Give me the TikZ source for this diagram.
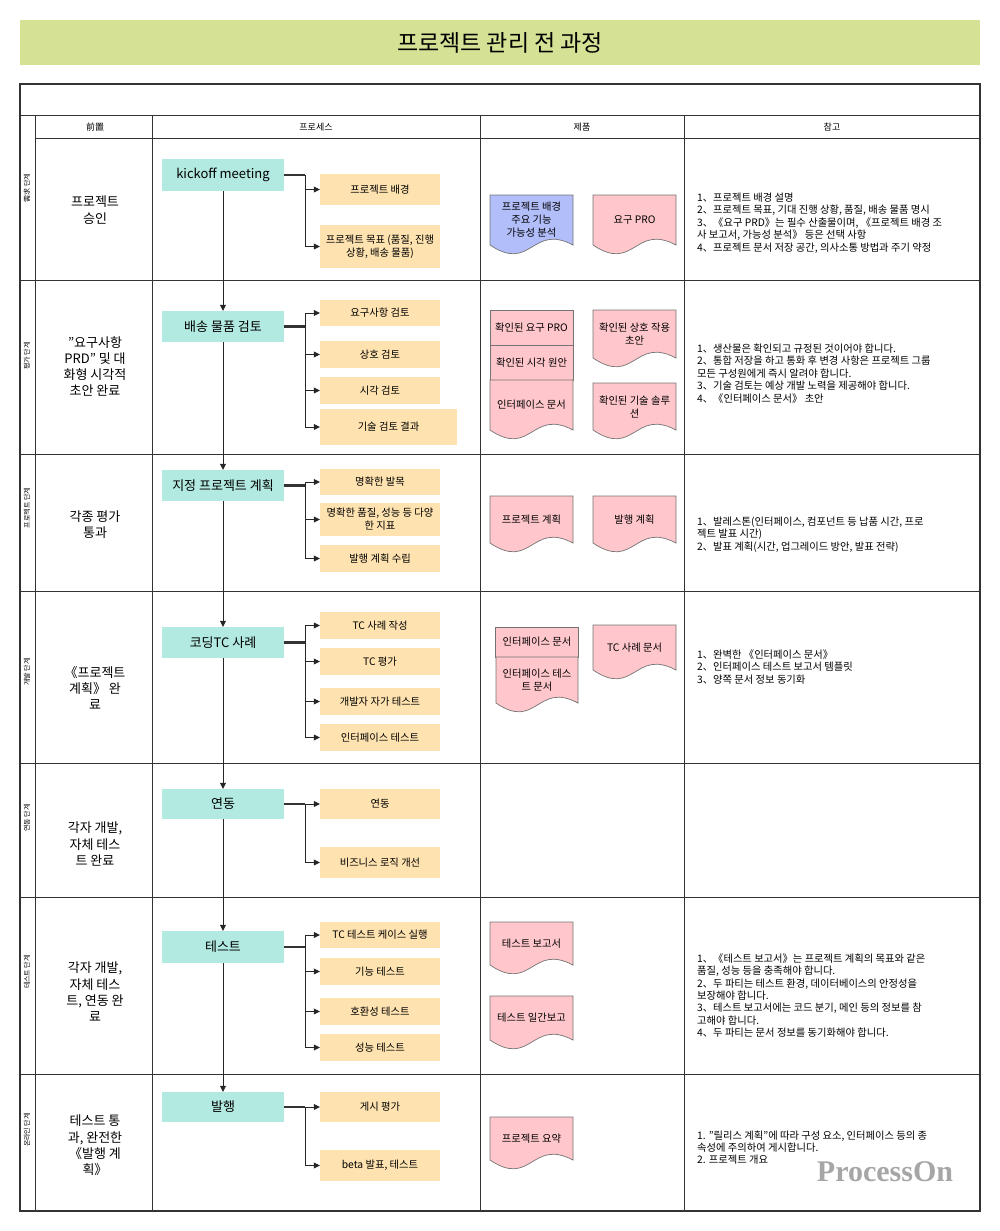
\documentclass[tikz,border=0pt]{standalone}
\usepackage{fontspec}
\setmainfont{Noto Sans CJK KR}
\newfontfamily\markfont{Liberation Serif}
\usetikzlibrary{arrows.meta,positioning}
\definecolor{titlegreen}{RGB}{213,226,150}
\definecolor{stagefill}{RGB}{178,233,224}
\definecolor{taskfill}{RGB}{254,226,176}
\definecolor{pinkdoc}{RGB}{255,199,204}
\definecolor{bluedoc}{RGB}{178,190,250}
\tikzset{
    stage/.style={fill=stagefill, minimum width=122pt, minimum height=31pt, inner sep=1pt, font=\fontsize{13}{15}\selectfont},
    task/.style={fill=taskfill, minimum width=120pt, minimum height=27pt, inner sep=1pt, align=center, font=\fontsize{10.3}{13}\selectfont},
    edge/.style={draw=black!85, -{Triangle[length=6pt,width=6pt]}},
    trunk/.style={draw=black!80, line width=2.4pt},
    grid/.style={draw=black!80, line width=0.9pt},
    docline/.style={draw=black!55, line width=0.7pt},
    docrect/.style={draw=black!55, line width=0.7pt, fill=pinkdoc, minimum width=83pt, inner sep=1pt, align=center, font=\fontsize{10.3}{13}\selectfont},
    doctext/.style={align=center, inner sep=1pt, font=\fontsize{10.3}{13}\selectfont},
    phase/.style={rotate=90, inner sep=0pt, font=\fontsize{7}{8}\selectfont},
    gate/.style={align=center, inner sep=1pt, font=\fontsize{13}{16.3}\selectfont},
    note/.style={anchor=west, align=left, inner sep=0pt, font=\fontsize{10.3}{12.4}\selectfont},
    head/.style={inner sep=1pt, font=\fontsize{9}{10}\selectfont}
}
% wavy document: name, x0, y0, x1, y1, colour, text
\newcommand{\docpage}[7]{%
    \filldraw[docline, fill=#6] (#2,#3) -- (#4,#3) -- (#4,#5-10)
        .. controls ({(#2+#4)/2},#5-32) and ({(#2+#4)/2},#5+18) .. (#2,#5-10) -- cycle;
    \node[doctext] (#1) at ({(#2+#4)/2},{(#3+#5-10)/2}) {#7};
}
\begin{document}
\begin{tikzpicture}[x=1pt, y=-1pt]
    \useasboundingbox (0,0) rectangle (1000,1231);

    % title
    \node[fill=titlegreen, minimum width=960pt, minimum height=45pt, font=\fontsize{23}{25}\selectfont] (title) at (500,42.5) {프로젝트 관리 전 과정};

    % table
    \draw[grid, line width=1.3pt] (20,84) rectangle (980,1211);
    \draw[grid] (20,115) -- (980,115);
    \draw[grid] (35,138) -- (980,138);
    \foreach \y in {280,454,591,763,897,1074}
        \draw[grid] (20,\y) -- (980,\y);
    \draw[grid] (35,115) -- (35,1211);
    \foreach \x in {152,480,684}
        \draw[grid] (\x,115) -- (\x,1211);

    \node[head] (h1) at (95,127) {前置};
    \node[head] (h2) at (316,127) {프로세스};
    \node[head] (h3) at (582,127) {제품};
    \node[head] (h4) at (832,127) {참고};

    % phases
    \node[phase] (ph1) at (27,188) {需求 단계};
    \node[phase] (ph2) at (27,356) {평가 단계};
    \node[phase] (ph3) at (27,508) {프로젝트 단계};
    \node[phase] (ph4) at (27,672) {개발 단계};
    \node[phase] (ph5) at (27,818) {연동 단계};
    \node[phase] (ph6) at (27,972) {테스트 단계};
    \node[phase] (ph7) at (27,1130) {온라인 단계};

    % preconditions
    \node[gate] (g1) at (95,210) {프로젝트\\승인};
    \node[gate] (g2) at (95,366.5) {"요구사항\\PRD" 및 대\\화형 시각적\\초안 완료};
    \node[gate] (g3) at (95,524.5) {각종 평가\\통과};
    \node[gate] (g4) at (95,688) {《프로젝트\\계획》 완\\료};
    \node[gate] (g5) at (95,844) {각자 개발,\\자체 테스\\트 완료};
    \node[gate] (g6) at (95,992) {각자 개발,\\자체 테스\\트, 연동 완\\료};
    \node[gate] (g7) at (95,1145.5) {테스트 통\\과, 완전한\\《발행 계\\획》};

    % stages
    \node[stage, minimum height=32pt] (t1) at (223,175) {kickoff meeting};
    \node[stage] (t2) at (223,326.5) {배송 물품 검토};
    \node[stage] (t3) at (223,485.5) {지정 프로젝트 계획};
    \node[stage] (t4) at (223,642.5) {코딩TC 사례};
    \node[stage, minimum height=30pt] (t5) at (223,804) {연동};
    \node[stage, minimum height=32pt] (t6) at (223,947) {테스트};
    \node[stage, minimum height=30pt] (t7) at (223,1107) {발행};

    % tasks
    \node[task, minimum height=31pt] (o11) at (380,189.5) {프로젝트 배경};
    \node[task, minimum height=43pt] (o12) at (380,246.5) {프로젝트 목표 (품질, 진행\\상황, 배송 물품)};
    \node[task, minimum height=26pt] (o21) at (380,313) {요구사항 검토};
    \node[task] (o22) at (380,354.5) {상호 검토};
    \node[task] (o23) at (380,390.5) {시각 검토};
    \node[task, minimum width=137pt, minimum height=36pt] (o24) at (388.5,427) {기술 검토 결과};
    \node[task, minimum height=26pt] (o31) at (380,482) {명확한 발목};
    \node[task, minimum height=33pt] (o32) at (380,519.5) {명확한 품질, 성능 등 다양\\한 지표};
    \node[task] (o33) at (380,558.5) {발행 계획 수립};
    \node[task] (o41) at (380,625.5) {TC 사례 작성};
    \node[task] (o42) at (380,661.5) {TC 평가};
    \node[task] (o43) at (380,701.5) {개발자 자가 테스트};
    \node[task] (o44) at (380,737.5) {인터페이스 테스트};
    \node[task, minimum height=30pt] (o51) at (380,804) {연동};
    \node[task, minimum height=31pt] (o52) at (380,862.5) {비즈니스 로직 개선};
    \node[task, minimum height=26pt] (o61) at (380,935) {TC 테스트 케이스 실행};
    \node[task] (o62) at (380,971.5) {기능 테스트};
    \node[task] (o63) at (380,1011.5) {호환성 테스트};
    \node[task] (o64) at (380,1047.5) {성능 테스트};
    \node[task, minimum height=30pt] (o71) at (380,1107) {게시 평가};
    \node[task, minimum height=31pt] (o72) at (380,1165.5) {beta 발표, 테스트};

    % branch points
    \coordinate (b1) at (305,175);
    \coordinate (b2) at (305,326.5);
    \coordinate (b3) at (305,485.5);
    \coordinate (b4) at (305,642.5);
    \coordinate (b5) at (305,804);
    \coordinate (b6) at (305,947);
    \coordinate (b7) at (305,1107);

    % edges
    \draw[edge] (t1) -- (t2);
    \draw[edge] (t2) -- (t3);
    \draw[edge] (t3) -- (t4);
    \draw[edge] (t4) -- (t5);
    \draw[edge] (t5) -- (t6);
    \draw[edge] (t6) -- (t7);

    \draw[trunk] (t1) -- (b1);
    \draw[edge] (b1) |- (o11);
    \draw[edge] (b1) |- (o12);
    \draw[trunk] (t2) -- (b2);
    \foreach \n in {o21,o22,o23,o24}
        \draw[edge] (b2) |- (\n);
    \draw[trunk] (t3) -- (b3);
    \foreach \n in {o31,o32,o33}
        \draw[edge] (b3) |- (\n);
    \draw[trunk] (t4) -- (b4);
    \foreach \n in {o41,o42,o43,o44}
        \draw[edge] (b4) |- (\n);
    \draw[trunk] (t5) -- (b5);
    \draw[edge] (b5) |- (o51);
    \draw[edge] (b5) |- (o52);
    \draw[trunk] (t6) -- (b6);
    \foreach \n in {o61,o62,o63,o64}
        \draw[edge] (b6) |- (\n);
    \draw[trunk] (t7) -- (b7);
    \draw[edge] (b7) |- (o71);
    \draw[edge] (b7) |- (o72);

    % products
    \docpage{d11}{490}{195}{573}{255}{bluedoc}{프로젝트 배경\\주요 기능\\가능성 분석}
    \docpage{d12}{593}{195}{676}{255}{pinkdoc}{요구 PRO}
    \node[docrect, minimum height=35pt] (d21) at (531.5,327.5) {확인된 요구 PRO};
    \node[docrect, minimum height=35pt] (d22) at (531.5,362.5) {확인된 시각 원안};
    \docpage{d23}{490}{380}{573}{440}{pinkdoc}{인터페이스 문서}
    \docpage{d24}{593}{310}{676}{368}{pinkdoc}{확인된 상호 작용\\초안}
    \docpage{d25}{593}{383}{676}{440}{pinkdoc}{확인된 기술 솔루\\션}
    \docpage{d31}{490}{496}{573}{553}{pinkdoc}{프로젝트 계획}
    \docpage{d32}{593}{496}{676}{553}{pinkdoc}{발행 계획}
    \node[docrect, minimum height=30pt] (d41) at (537,642) {인터페이스 문서};
    \docpage{d42}{496}{657}{578}{713}{pinkdoc}{인터페이스 테스\\트 문서}
    \docpage{d43}{593}{625}{676}{680}{pinkdoc}{TC 사례 문서}
    \docpage{d61}{490}{922}{573}{975}{pinkdoc}{테스트 보고서}
    \docpage{d62}{490}{996}{573}{1050}{pinkdoc}{테스트 일간보고}
    \docpage{d71}{490}{1117}{573}{1170}{pinkdoc}{프로젝트 요약}

    % notes
    \node[note] (n1) at (697,223) {1、프로젝트 배경 설명\\2、프로젝트 목표, 기대 진행 상황, 품질, 배송 물품 명시\\3、《요구 PRD》는 필수 산출물이며, 《프로젝트 배경 조\\사 보고서, 가능성 분석》 등은 선택 사항\\4、프로젝트 문서 저장 공간, 의사소통 방법과 주기 약정};
    \node[note] (n2) at (697,373.5) {1、생산물은 확인되고 규정된 것이어야 합니다.\\2、통합 저장을 하고 통화 후 변경 사항은 프로젝트 그룹\\모든 구성원에게 즉시 알려야 합니다.\\3、기술 검토는 예상 개발 노력을 제공해야 합니다.\\4、《인터페이스 문서》 초안};
    \node[note] (n3) at (697,534.5) {1、발레스톤(인터페이스, 컴포넌트 등 납품 시간, 프로\\젝트 발표 시간)\\2、발표 계획(시간, 업그레이드 방안, 발표 전략)};
    \node[note] (n4) at (697,667) {1、완벽한 《인터페이스 문서》\\2、인터페이스 테스트 보고서 템플릿\\3、양쪽 문서 정보 동기화};
    \node[note] (n6) at (697,995.5) {1、《테스트 보고서》는 프로젝트 계획의 목표와 같은\\품질, 성능 등을 충족해야 합니다.\\2、두 파티는 테스트 환경, 데이터베이스의 안정성을\\보장해야 합니다.\\3、테스트 보고서에는 코드 분기, 메인 등의 정보를 참\\고해야 합니다.\\4、두 파티는 문서 정보를 동기화해야 합니다.};
    \node[note] (n7) at (697,1147.5) {1. "릴리스 계획"에 따라 구성 요소, 인터페이스 등의 종\\속성에 주의하여 게시합니다.\\2. 프로젝트 개요};

    \node[text=black!35, font=\markfont\bfseries\fontsize{30}{30}\selectfont] (mark) at (885,1172) {ProcessOn};
\end{tikzpicture}
\end{document}
